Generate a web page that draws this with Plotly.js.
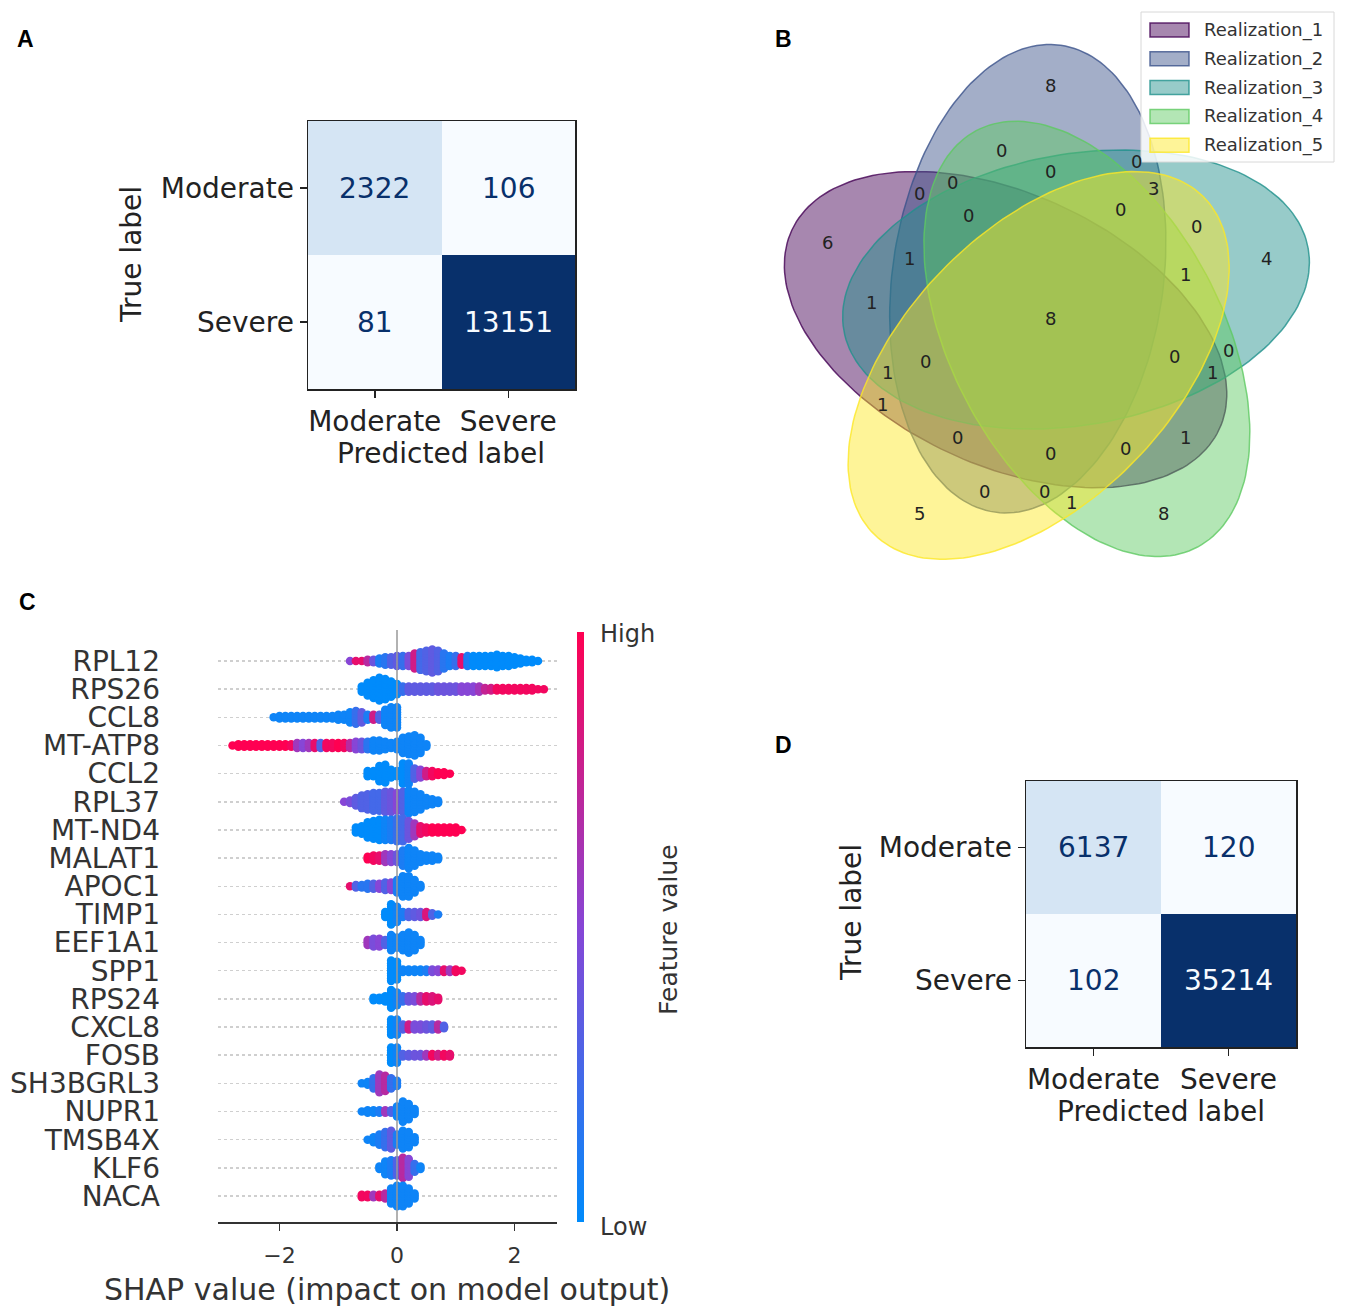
<!DOCTYPE html>
<html><head><meta charset="utf-8">
<script src="https://cdn.plot.ly/plotly-3.0.1.min.js"></script>
<style>html,body{margin:0;padding:0;background:#fff;}#chart{width:1346px;height:1315px;}</style>
</head><body><div id="chart"></div>
<script>
// ---------------- DATA ----------------
// Confusion matrices (panels A and D)
const cmLabels = ['Moderate', 'Severe'];
const cmA = [[2322, 106], [81, 13151]];
const cmD = [[6137, 120], [102, 35214]];

// Venn diagram (panel B)
const vennNames = ['Realization_1', 'Realization_2', 'Realization_3', 'Realization_4', 'Realization_5'];
const vennRegions = ['00001','00010','00011','00100','00101','00110','00111','01000','01001','01010','01011','01100','01101','01110','01111','10000','10001','10010','10011','10100','10101','10110','10111','11000','11001','11010','11011','11100','11101','11110','11111'];
const vennCounts = [5,8,1,4,0,0,1,8,0,0,0,0,3,0,0,6,1,1,0,1,1,1,0,0,0,0,0,1,0,0,8];

// SHAP summary (panel C): per gene, binned SHAP values (bin width 0.1, from shapStart)
// cnt_* = number of stacked samples per bin, feat_* = mean normalised feature value per bin
const genes = ['RPL12','RPS26','CCL8','MT-ATP8','CCL2','RPL37','MT-ND4','MALAT1','APOC1','TIMP1','EEF1A1','SPP1','RPS24','CXCL8','FOSB','SH3BGRL3','NUPR1','TMSB4X','KLF6','NACA'];
const shapStart = [-0.8,-0.6,-2.1,-2.8,-0.5,-0.9,-0.7,-0.5,-0.8,-0.2,-0.5,-0.1,-0.4,-0.1,-0.1,-0.6,-0.6,-0.5,-0.3,-0.6];
const shapBin = 0.1;
const cnt_RPL12 = [1,1,1,2,2,3,4,4,5,5,5,7,8,9,10,9,7,5,5,4,5,5,5,5,5,6,5,5,4,3,2,2,1];
const feat_RPL12 = [0.5,0.9,0.9,0.7,0.4,0.1,0.15,0.3,0.35,0.2,0.45,0.8,0.25,0.3,0.35,0.3,0.15,0.1,0.2,0.9,0.1,0,0,0,0,0,0,0,0,0,0,0,0];
const cnt_RPS26 = [3,6,8,10,9,7,5,3,3,3,3,3,3,3,3,3,3,3,3,3,3,2,2,2,2,2,2,2,2,2,1,1];
const feat_RPS26 = [0,0,0,0,0,0,0,0.2,0.35,0.35,0.35,0.35,0.35,0.4,0.4,0.4,0.4,0.5,0.5,0.5,0.6,0.75,0.8,0.95,0.95,0.95,0.95,0.95,0.95,0.95,0.95,0.95];
const cnt_CCL8 = [1,2,2,2,2,2,2,2,2,2,2,3,3,5,6,5,3,3,3,7,9,9];
const feat_CCL8 = [0.05,0.05,0.05,0.05,0.05,0.05,0.05,0.05,0.05,0.05,0.05,0.05,0.05,0.05,0.2,0.35,0.1,0.8,0.3,0.05,0.05,0.05];
const cnt_MT_ATP8 = [1,2,2,2,2,2,2,2,2,2,2,3,3,3,3,3,3,3,3,3,3,4,4,4,5,5,4,3,4,7,8,9,7,2];
const feat_MT_ATP8 = [1,1,1,1,1,1,1,1,1,1,0.95,0.6,0.5,0.6,0.9,0.3,0.95,0.95,1,0.95,0.7,0.5,0.4,0.15,0.05,0.05,0.05,0.05,0.05,0.05,0.05,0.05,0.05,0.05];
const cnt_CCL2 = [3,3,7,8,4,3,9,9,5,4,3,3,2,2,1];
const feat_CCL2 = [0,0,0,0,0,0,0,0.05,0.3,0.5,0.8,0.95,1,1,1];
const cnt_RPL37 = [1,2,4,6,7,8,8,9,9,8,9,10,9,7,4,3,2];
const feat_RPL37 = [0.5,0.45,0.35,0.3,0.3,0.25,0.25,0.35,0.4,0.5,0.3,0.05,0.05,0.05,0.05,0.05,0.05];
const cnt_MT_ND4 = [3,4,7,8,9,9,9,10,10,8,6,4,3,3,3,3,3,3,1];
const feat_MT_ND4 = [0,0,0,0,0,0.05,0.1,0.2,0.25,0.4,0.6,0.9,0.95,1,1,1,1,1,1];
const cnt_MALAT1 = [2,3,3,4,4,4,7,9,7,4,3,3,2];
const feat_MALAT1 = [1,0.95,0.9,0.6,0.5,0.4,0.1,0.05,0.05,0.05,0.05,0.05,0.05];
const cnt_APOC1 = [1,2,2,3,3,3,4,4,6,9,9,6,2];
const feat_APOC1 = [0.9,0.3,0.15,0.15,0.3,0.5,0.3,0.5,0.1,0.05,0.05,0.05,0.05];
const cnt_TIMP1 = [3,9,7,3,3,3,3,3,2,1];
const feat_TIMP1 = [0,0,0.05,0.1,0.3,0.35,0.4,0.85,0.3,0.1];
const cnt_EEF1A1 = [3,4,4,3,7,5,7,9,7,3];
const feat_EEF1A1 = [0.6,0.45,0.5,0.3,0.05,0.05,0.05,0.05,0.05,0.05];
const cnt_SPP1 = [9,8,2,2,2,2,2,2,2,2,2,2,1];
const feat_SPP1 = [0,0,0.05,0.05,0.05,0.05,0.1,0.45,0.5,0.9,0.6,0.95,0.95];
const cnt_RPS24 = [2,2,3,8,6,3,3,3,3,3,3,2];
const feat_RPS24 = [0,0,0,0,0.05,0.2,0.4,0.45,0.7,0.9,0.85,0.9];
const cnt_CXCL8 = [7,7,3,3,3,3,3,3,3,2];
const feat_CXCL8 = [0,0.05,0.3,0.8,0.45,0.45,0.4,0.35,0.7,0.3];
const cnt_FOSB = [7,7,2,2,2,2,2,2,2,2,2];
const feat_FOSB = [0,0.05,0.3,0.35,0.4,0.4,0.6,0.95,0.8,0.95,0.9];
const cnt_SH3BGRL3 = [1,2,5,8,7,5,3];
const feat_SH3BGRL3 = [0.05,0.05,0.2,0.6,0.7,0.2,0.1];
const cnt_NUPR1 = [1,2,2,2,2,2,5,9,7,3];
const feat_NUPR1 = [0.05,0.05,0.05,0.1,0.6,0.3,0.05,0.05,0.05,0.05];
const cnt_TMSB4X = [1,3,5,7,8,5,8,7,3];
const feat_TMSB4X = [0.05,0.05,0.1,0.2,0.35,0.1,0.05,0.05,0.05];
const cnt_KLF6 = [2,6,7,7,9,8,4,2];
const feat_KLF6 = [0.05,0.05,0.1,0.3,0.7,0.5,0.2,0.05];
const cnt_NACA = [2,2,2,2,3,7,9,9,7,3];
const feat_NACA = [0.95,0.95,0.6,0.9,0.7,0.05,0.05,0.05,0.05,0.05];

const shapCounts = [cnt_RPL12,cnt_RPS26,cnt_CCL8,cnt_MT_ATP8,cnt_CCL2,cnt_RPL37,cnt_MT_ND4,cnt_MALAT1,cnt_APOC1,cnt_TIMP1,cnt_EEF1A1,cnt_SPP1,cnt_RPS24,cnt_CXCL8,cnt_FOSB,cnt_SH3BGRL3,cnt_NUPR1,cnt_TMSB4X,cnt_KLF6,cnt_NACA];
const shapFeat = [feat_RPL12,feat_RPS26,feat_CCL8,feat_MT_ATP8,feat_CCL2,feat_RPL37,feat_MT_ND4,feat_MALAT1,feat_APOC1,feat_TIMP1,feat_EEF1A1,feat_SPP1,feat_RPS24,feat_CXCL8,feat_FOSB,feat_SH3BGRL3,feat_NUPR1,feat_TMSB4X,feat_KLF6,feat_NACA];

// ---------------- LAYOUT HELPERS ----------------
const W = 1346, H = 1315;
const FONT = 'DejaVu Sans, Verdana, sans-serif';
const fx = px => px / W;
const fy = py => 1 - py / H;

const blues = [[0,'#f7fbff'],[0.125,'#deebf7'],[0.25,'#c6dbef'],[0.375,'#9ecae1'],[0.5,'#6baed6'],[0.625,'#4292c6'],[0.75,'#2171b5'],[0.875,'#08519c'],[1,'#08306b']];
const redBlue = [[0,'#008bfb'],[0.5,'#8746d6'],[1,'#ff0052']];

// Venn geometry (matplotlib-style axes 0..1)
const vennCenters = [[0.428,0.449],[0.469,0.543],[0.558,0.523],[0.578,0.432],[0.489,0.383]];
const vennAngles = [155, 82, 10, 118, 46];
const vennDims = [0.87, 0.50];
const vennRGB = [[68,1,84],[59,82,139],[33,145,140],[94,201,98],[253,231,37]];
const vennAlpha = 0.47;
const vennLabelPos = [[0.27,0.11],[0.72,0.11],[0.55,0.13],[0.91,0.58],[0.78,0.64],[0.84,0.41],[0.76,0.55],[0.51,0.90],[0.39,0.15],[0.42,0.78],[0.50,0.15],[0.67,0.76],[0.70,0.71],[0.51,0.74],[0.64,0.67],[0.10,0.61],[0.20,0.31],[0.76,0.25],[0.65,0.23],[0.18,0.50],[0.21,0.37],[0.81,0.37],[0.74,0.40],[0.27,0.70],[0.34,0.25],[0.33,0.72],[0.51,0.22],[0.25,0.58],[0.28,0.39],[0.36,0.66],[0.51,0.47]];

const traces = [];
const annotations = [];
const shapes = [];

// ---------------- Heatmaps ----------------
function addCM(z, xa, ya) {
  const flat = z.flat();
  const zmin = Math.min(...flat), zmax = Math.max(...flat);
  traces.push({type:'heatmap', x:cmLabels, y:cmLabels, z:z, colorscale:blues, zmin:zmin, zmax:zmax,
    showscale:false, xaxis:xa, yaxis:ya, hoverinfo:'z'});
  const thr = (zmin + zmax) / 2;
  for (let i = 0; i < cmLabels.length; i++) for (let j = 0; j < cmLabels.length; j++) {
    annotations.push({xref:xa, yref:ya, x:cmLabels[j], y:cmLabels[i], text:String(z[i][j]), showarrow:false,
      xanchor:'center', yanchor:'middle',
      font:{family:FONT, size:28, color: z[i][j] > thr ? '#f7fbff' : '#08306b'}});
  }
}
addCM(cmA, 'x', 'y');
addCM(cmD, 'x2', 'y2');

// ---------------- Venn ----------------
for (let k = 0; k < 5; k++) {
  const [cx, cy] = vennCenters[k];
  const a = vennDims[0] / 2, b = vennDims[1] / 2, th = vennAngles[k] * Math.PI / 180;
  const xs = [], ys = [];
  for (let s = 0; s <= 180; s++) {
    const t = s / 180 * 2 * Math.PI;
    xs.push(cx + a * Math.cos(t) * Math.cos(th) - b * Math.sin(t) * Math.sin(th));
    ys.push(cy + a * Math.cos(t) * Math.sin(th) + b * Math.sin(t) * Math.cos(th));
  }
  const [r, g, bb] = vennRGB[k];
  traces.push({type:'scatter', mode:'lines', x:xs, y:ys, fill:'toself',
    fillcolor:`rgba(${r},${g},${bb},${vennAlpha})`, line:{color:`rgba(${r},${g},${bb},0.8)`, width:1.5},
    name:vennNames[k], showlegend:false, xaxis:'x3', yaxis:'y3', hoverinfo:'name'});
}
for (let i = 0; i < vennRegions.length; i++) {
  annotations.push({xref:'x3', yref:'y3', x:vennLabelPos[i][0], y:vennLabelPos[i][1], text:String(vennCounts[i]),
    xanchor:'center', yanchor:'middle', showarrow:false, font:{family:FONT, size:18, color:'#222'}});
}
// Venn legend (drawn box, swatches, labels)
shapes.push({type:'rect', xref:'paper', yref:'paper', x0:fx(1141), x1:fx(1334), y0:fy(162), y1:fy(12),
  fillcolor:'rgba(255,255,255,0.85)', line:{color:'#d8d8d8', width:1}, layer:'above'});
vennNames.forEach((nm, k) => {
  const cy = 30 + k * 28.8;
  const [r, g, bb] = vennRGB[k];
  shapes.push({type:'rect', xref:'paper', yref:'paper', x0:fx(1150), x1:fx(1189), y0:fy(cy + 7), y1:fy(cy - 7),
    fillcolor:`rgba(${r},${g},${bb},${vennAlpha})`, line:{color:`rgba(${r},${g},${bb},0.8)`, width:1.5}, layer:'above'});
  annotations.push({xref:'paper', yref:'paper', x:fx(1202), y:fy(cy), xanchor:'left', yanchor:'middle', text:nm,
    showarrow:false, font:{family:FONT, size:18, color:'#333'}});
});

// ---------------- SHAP beeswarm ----------------
const sx = [], sy = [], sc = [];
const stackStep = 0.09;
genes.forEach((gname, gi) => {
  const row = genes.length - 1 - gi;
  const cnt = shapCounts[gi], ft = shapFeat[gi];
  for (let b = 0; b < cnt.length; b++) {
    const xv = shapStart[gi] + b * shapBin;
    const n = cnt[b];
    for (let k = 0; k < n; k++) {
      sx.push(xv);
      sy.push(row + (k - (n - 1) / 2) * stackStep);
      sc.push(ft[b]);
    }
  }
});
traces.push({type:'scatter', mode:'markers', x:sx, y:sy, xaxis:'x4', yaxis:'y4', showlegend:false, hoverinfo:'x',
  marker:{size:8.5, color:sc, colorscale:redBlue, cmin:0, cmax:1, line:{width:0}, showscale:true,
    colorbar:{x:fx(577), xanchor:'left', xpad:0, ypad:0, y:fy(927), yanchor:'middle', len:590/H, lenmode:'fraction',
      thickness:7, thicknessmode:'pixels', outlinewidth:0, showticklabels:false, ticks:''}}});
shapes.push({type:'line', xref:'x4', yref:'y4 domain', x0:0, x1:0, y0:0, y1:1, layer:'above',
  line:{color:'#999', width:1.5}});

// ---------------- Annotations (text) ----------------
function txt(px, py, text, size, opts) {
  annotations.push(Object.assign({xref:'paper', yref:'paper', x:fx(px), y:fy(py), text:text, showarrow:false,
    xanchor:'center', yanchor:'middle', font:{family:FONT, size:size, color:'#222'}}, opts || {}));
}
const bold = {family:'Liberation Sans, Arial, sans-serif', size:23, color:'#000'};
txt(25, 39, '<b>A</b>', 23, {font:bold});
txt(783, 39, '<b>B</b>', 23, {font:bold});
txt(27, 602, '<b>C</b>', 23, {font:bold});
txt(783, 745, '<b>D</b>', 23, {font:bold});
txt(441, 453, 'Predicted label', 28);
txt(131, 255, 'True label', 28, {textangle:-90});
txt(1161, 1111, 'Predicted label', 28);
txt(851, 913, 'True label', 28, {textangle:-90});
txt(387, 1289, 'SHAP value (impact on model output)', 30, {font:{family:FONT, size:30, color:'#333'}});
txt(598, 634, 'High', 24, {xanchor:'left', font:{family:FONT, size:24, color:'#333'}});
txt(598, 1227, 'Low', 24, {xanchor:'left', font:{family:FONT, size:24, color:'#333'}});
txt(668, 930, 'Feature value', 25, {textangle:-90, font:{family:FONT, size:25, color:'#333'}});

// ---------------- Axes ----------------
function cmAxis(domain, anchor, reversed) {
  const ax = {domain:domain, anchor:anchor, type:'category', showgrid:false, zeroline:false,
    ticks:'outside', ticklen:7, tickwidth:1.5, tickcolor:'#222', showline:true, mirror:true,
    linecolor:'#222', linewidth:1.5, tickfont:{family:FONT, size:28, color:'#222'}, fixedrange:true};
  if (reversed) ax.autorange = 'reversed';
  return ax;
}
const rowPx = 28.16;
const layout = {
  width:W, height:H, margin:{l:0, r:0, t:0, b:0, pad:0},
  paper_bgcolor:'#fff', plot_bgcolor:'rgba(0,0,0,0)',
  font:{family:FONT, color:'#222'},
  xaxis: cmAxis([fx(308), fx(575)], 'y', false),
  yaxis: cmAxis([fy(389), fy(121)], 'x', true),
  xaxis2: cmAxis([fx(1026), fx(1296)], 'y2', false),
  yaxis2: cmAxis([fy(1047), fy(781)], 'x2', true),
  xaxis3: {domain:[fx(773.6), fx(1315.6)], anchor:'y3', range:[0,1], visible:false, fixedrange:true},
  yaxis3: {domain:[fy(573), fy(31)], anchor:'x3', range:[0,1], visible:false, fixedrange:true},
  xaxis4: {domain:[fx(218), fx(557)], anchor:'y4', range:[(218-397)/58.75, (557-397)/58.75],
    tickvals:[-2,0,2], ticks:'outside', ticklen:7, tickwidth:1.5, tickcolor:'#333', showline:true,
    linecolor:'#333', linewidth:1.5, zeroline:false, showgrid:false, ticklabelstandoff:6,
    tickfont:{family:FONT, size:22, color:'#333'}, fixedrange:true},
  yaxis4: {domain:[fy(1222), fy(630)], anchor:'x4', range:[-26/rowPx, 19 + 31/rowPx],
    tickvals:genes.map((g, i) => genes.length - 1 - i), ticktext:genes, ticks:'', showline:false,
    zeroline:false, showgrid:true, gridcolor:'#cfcfcf', gridwidth:1.5, griddash:'dot', ticklabelstandoff:57,
    tickfont:{family:FONT, size:28, color:'#333'}, fixedrange:true},
  shapes:shapes,
  annotations:annotations,
  showlegend:false
};
Plotly.newPlot('chart', traces, layout, {displayModeBar:false, staticPlot:true});
</script></body></html>
